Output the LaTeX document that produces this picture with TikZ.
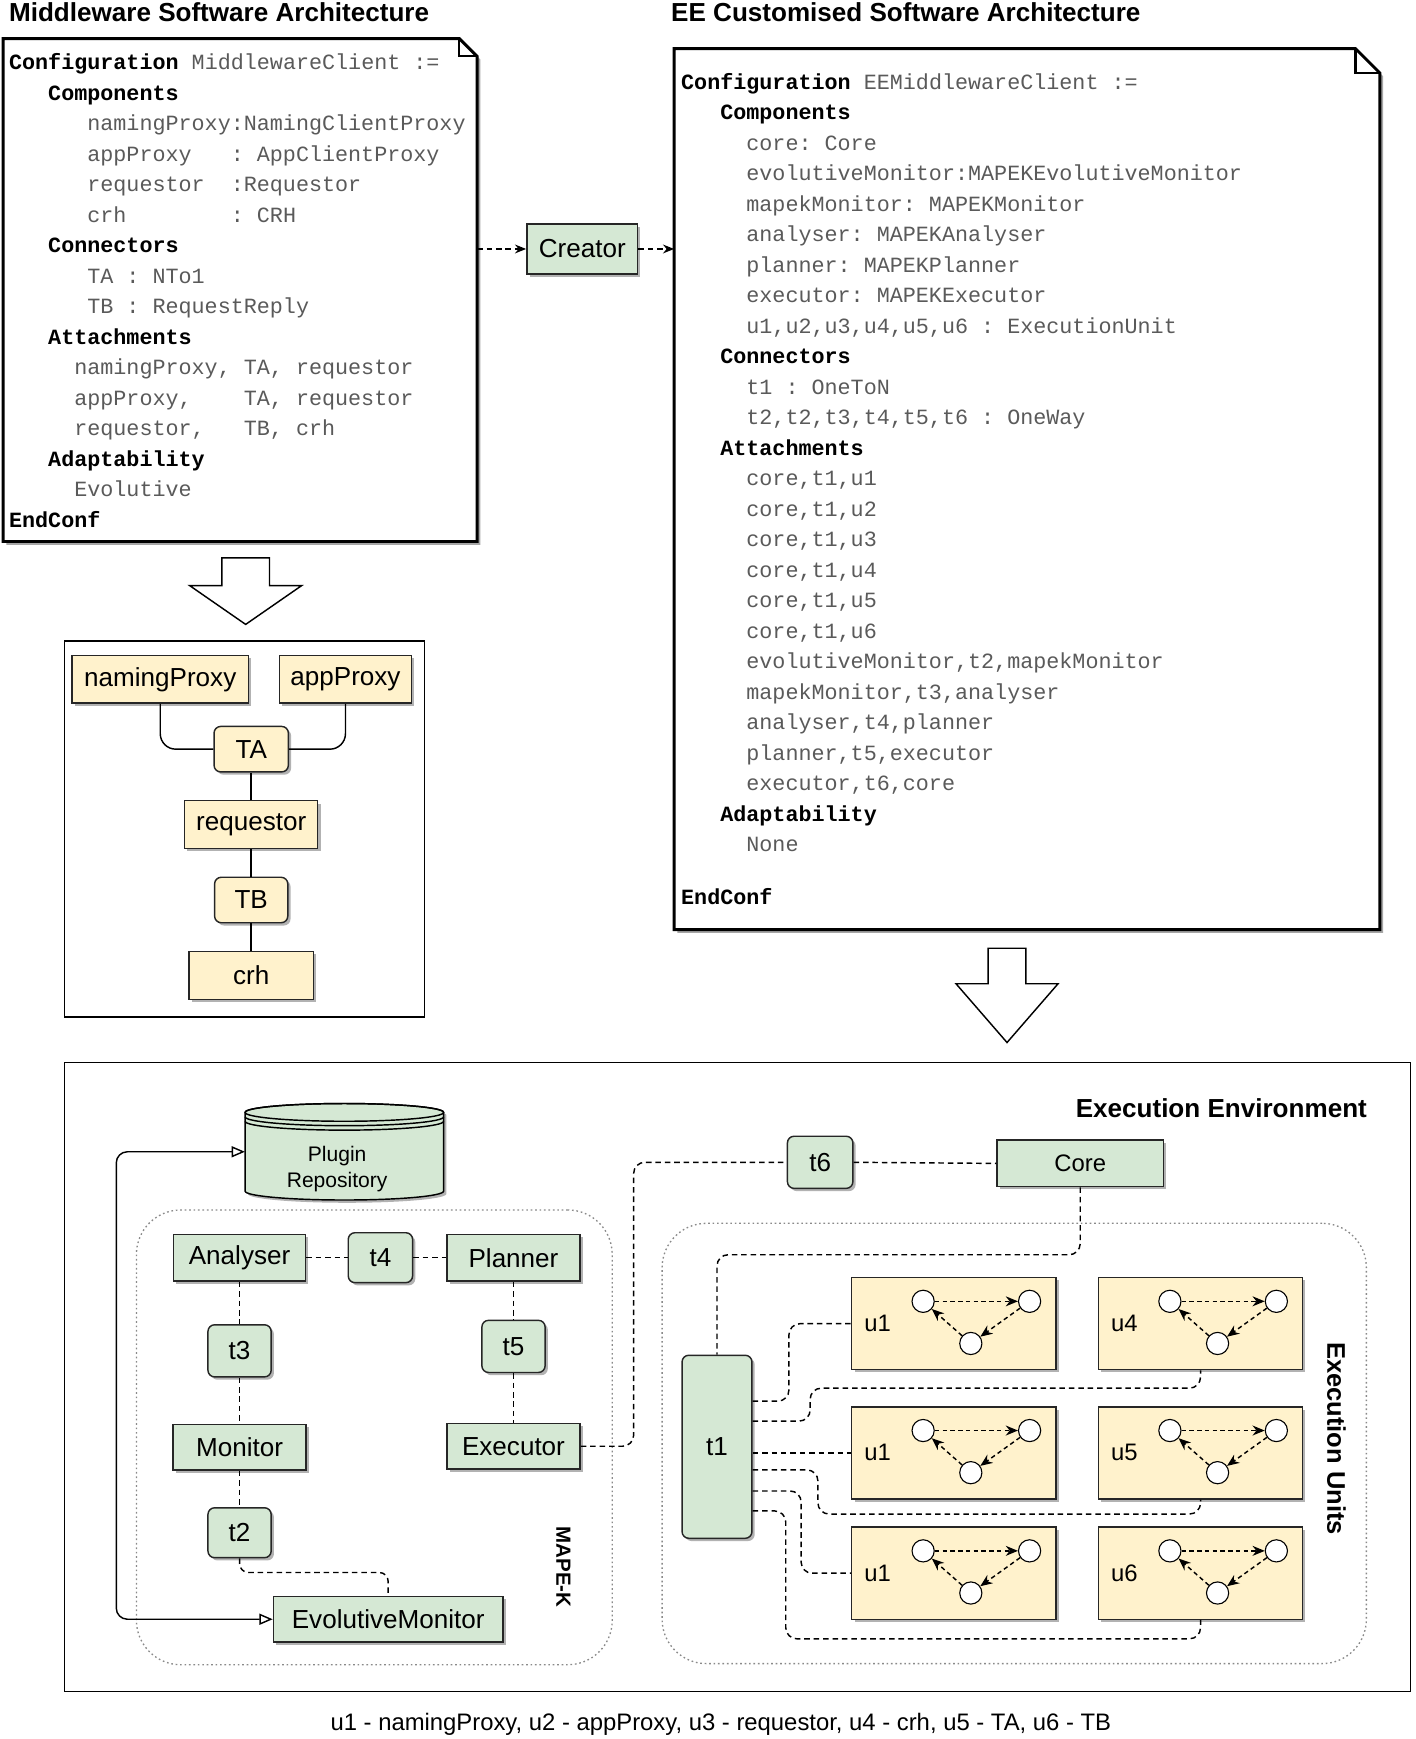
\documentclass[tikz,border=0pt]{standalone}
\usepackage{fontspec}
\setmainfont{Liberation Sans}
\setmonofont{Liberation Mono}
\usepackage{xcolor}
\usetikzlibrary{arrows.meta,shadows,calc}
\definecolor{compgreen}{HTML}{D5E8D4}
\definecolor{compyellow}{HTML}{FFF2CC}
\definecolor{codegray}{HTML}{5A5A5A}
\definecolor{groupgray}{HTML}{8A8A8A}
\newcommand\kw[1]{\textbf{\color{black}#1}}
\newcommand\cind[1]{\hspace*{\fpeval{0.6*#1}em}}
\tikzset{
    comp-box/.style = {draw=black!85, line width=1.3pt, rectangle, inner sep=0pt,
        font=\fontsize{23.5}{27}\selectfont,
        drop shadow={shadow xshift=2.5pt, shadow yshift=-2.5pt, opacity=.3, fill=black}},
    green-box/.style = {comp-box, fill=compgreen},
    yellow-box/.style = {comp-box, fill=compyellow},
    conn-box/.style = {rounded corners=6pt},
    frame-box/.style = {draw=black, line width=1.3pt, rectangle, inner sep=0pt},
    group-box/.style = {draw=groupgray, line width=1.2pt, dash pattern=on 1.5pt off 2.5pt, rounded corners=40pt, rectangle, inner sep=0pt},
    note-line/.style = {draw=black, line width=2.6pt, fill=white, line join=miter,
        drop shadow={shadow xshift=3pt, shadow yshift=-3pt, opacity=.35, fill=black}},
    code-text/.style = {anchor=north west, inner sep=0pt, align=left, text=codegray,
        font=\ttfamily\fontsize{19.6}{27.5}\selectfont},
    dash-line/.style = {line width=1.3pt, dash pattern=on 5pt off 3.5pt},
    unit-dot/.style = {circle, draw=black, line width=1pt, fill=white, minimum size=20pt, inner sep=0pt},
    unit-arrow/.style = {line width=1.3pt, dash pattern=on 4pt off 3pt, -{Stealth[length=11pt, width=9pt]}},
    block-arrow/.style = {draw=black, line width=1.3pt, fill=white, line join=miter},
    title-text/.style = {anchor=west, inner sep=0pt, font=\bfseries\fontsize{23.5}{27}\selectfont},
}

\begin{document}
\begin{tikzpicture}[x=1pt, y=-1pt]
\useasboundingbox (0,0) rectangle (1276,1568);

% titles
\node[title-text] (mwtitle) at (8,11) {Middleware Software Architecture};
\node[title-text] (eetitle) at (605,11) {EE Customised Software Architecture};

% configuration notes
\node[minimum width=427, minimum height=453, inner sep=0pt] (mwconf) at (216.5,261.5) {};
\draw[note-line] (mwconf.north west) -- ($(mwconf.north east)+(-16,0)$) -- ($(mwconf.north east)+(0,16)$) -- (mwconf.south east) -- (mwconf.south west) -- cycle;
\draw[line width=2pt] ($(mwconf.north east)+(-16,0)$) |- ($(mwconf.north east)+(0,16)$);
\node[code-text] (mwcode) at (8,48) {\kw{Configuration} MiddlewareClient~:=\\
\cind{3}\kw{Components}\\
\cind{6}namingProxy:NamingClientProxy\\
\cind{6}appProxy~~~:~AppClientProxy\\
\cind{6}requestor~~:Requestor\\
\cind{6}crh~~~~~~~~:~CRH\\
\cind{3}\kw{Connectors}\\
\cind{6}TA~:~NTo1\\
\cind{6}TB~:~RequestReply\\
\cind{3}\kw{Attachments}\\
\cind{5}namingProxy,~TA,~requestor\\
\cind{5}appProxy,~~~~TA,~requestor\\
\cind{5}requestor,~~~TB,~crh\\
\cind{3}\kw{Adaptability}\\
\cind{5}Evolutive\\
\kw{EndConf}};

\node[minimum width=636, minimum height=794, inner sep=0pt] (eeconf) at (926,441) {};
\draw[note-line] (eeconf.north west) -- ($(eeconf.north east)+(-22,0)$) -- ($(eeconf.north east)+(0,22)$) -- (eeconf.south east) -- (eeconf.south west) -- cycle;
\draw[line width=2pt] ($(eeconf.north east)+(-22,0)$) |- ($(eeconf.north east)+(0,22)$);
\node[code-text] (eecode) at (614,66) {\kw{Configuration} EEMiddlewareClient~:=\\
\cind{3}\kw{Components}\\
\cind{5}core:~Core\\
\cind{5}evolutiveMonitor:MAPEKEvolutiveMonitor\\
\cind{5}mapekMonitor:~MAPEKMonitor\\
\cind{5}analyser:~MAPEKAnalyser\\
\cind{5}planner:~MAPEKPlanner\\
\cind{5}executor:~MAPEKExecutor\\
\cind{5}u1,u2,u3,u4,u5,u6~:~ExecutionUnit\\
\cind{3}\kw{Connectors}\\
\cind{5}t1~:~OneToN\\
\cind{5}t2,t2,t3,t4,t5,t6~:~OneWay\\
\cind{3}\kw{Attachments}\\
\cind{5}core,t1,u1\\
\cind{5}core,t1,u2\\
\cind{5}core,t1,u3\\
\cind{5}core,t1,u4\\
\cind{5}core,t1,u5\\
\cind{5}core,t1,u6\\
\cind{5}evolutiveMonitor,t2,mapekMonitor\\
\cind{5}mapekMonitor,t3,analyser\\
\cind{5}analyser,t4,planner\\
\cind{5}planner,t5,executor\\
\cind{5}executor,t6,core\\
\cind{3}\kw{Adaptability}\\
\cind{5}None\\[19.5pt]
\kw{EndConf}};

% creator
\node[green-box, minimum width=100, minimum height=45] (creator) at (525,224.5) {Creator};
\draw[dash-line, -{Stealth[length=10pt, width=8pt]}] (mwconf.east |- creator.west) -- (creator.west);
\draw[dash-line, -{Stealth[length=10pt, width=8pt]}] (creator.east) -- (eeconf.west |- creator.east);

% block arrows
\draw[block-arrow] (200,503) -- (243,503) -- (243,528) -- (272,528) -- (221.5,563) -- (171,528) -- (200,528) -- cycle;
\draw[block-arrow] (891,855) -- (925,855) -- (925,887) -- (954,887) -- (908,940) -- (862,887) -- (891,887) -- cycle;

% middleware components
\node[frame-box, minimum width=325, minimum height=339] (compframe) at (220.5,747.5) {};
\node[yellow-box, minimum width=159, minimum height=43] (namingproxy) at (144.5,612.5) {namingProxy};
\node[yellow-box, minimum width=119, minimum height=43] (appproxy) at (311.5,612.5) {appProxy};
\node[yellow-box, conn-box, minimum width=67, minimum height=41] (ta) at (226.5,675.5) {TA};
\node[yellow-box, minimum width=120, minimum height=43] (requestor) at (226.5,743.5) {requestor};
\node[yellow-box, conn-box, minimum width=66, minimum height=41] (tb) at (226.5,811.5) {TB};
\node[yellow-box, minimum width=112, minimum height=43] (crh) at (226.5,879.5) {crh};
\draw[line width=1.3pt, rounded corners=14pt] (namingproxy.south) |- (ta.west);
\draw[line width=1.3pt, rounded corners=14pt] (appproxy.south) |- (ta.east);
\draw[line width=1.3pt] (ta.south) -- (requestor.north);
\draw[line width=1.3pt] (requestor.south) -- (tb.north);
\draw[line width=1.3pt] (tb.south) -- (crh.north);

% execution environment
\node[frame-box, minimum width=1214, minimum height=567] (envbox) at (665,1241.5) {};
\node[anchor=east, inner sep=0pt, font=\bfseries\fontsize{23.5}{27}\selectfont] (envlabel) at ($(envbox.north east)+(-40,42)$) {Execution Environment};
\node[group-box, minimum width=429, minimum height=410] (mapek) at (337.5,1296) {};
\node[group-box, minimum width=635, minimum height=397] (unitsbox) at (914.5,1301.5) {};
\node[rotate=-90, inner sep=0pt, font=\bfseries\fontsize{18.5}{22}\selectfont] (mapeklabel) at (508,1413) {MAPE-K};
\node[rotate=-90, inner sep=0pt, font=\bfseries\fontsize{23}{27}\selectfont] (unitslabel) at (1205,1297) {Execution Units};

% plugin repository
\node[minimum width=179, minimum height=87, inner sep=0pt] (plugin) at (310.5,1038.5) {};
\draw[line width=1.3pt, fill=compgreen, drop shadow={shadow xshift=2.5pt, shadow yshift=-2.5pt, opacity=.3, fill=black}]
  (221,1003) -- (221,1074) arc[start angle=180, end angle=0, x radius=89.5, y radius=8]
  -- (400,1003) arc[start angle=0, end angle=-180, x radius=89.5, y radius=8] -- cycle;
\draw[line width=1.3pt] (310.5,1003) ellipse[x radius=89.5, y radius=8];
\draw[line width=1.3pt] (221,1007) arc[start angle=180, end angle=0, x radius=89.5, y radius=8];
\draw[line width=1.3pt] (221,1011) arc[start angle=180, end angle=0, x radius=89.5, y radius=8];
\node[align=center, font=\fontsize{19}{23}\selectfont] (plugintext) at (304,1054) {Plugin\\Repository};

% MAPE-K loop
\node[green-box, minimum width=119, minimum height=42] (analyser) at (216,1134) {Analyser};
\node[green-box, conn-box, minimum width=58, minimum height=45] (t4) at (343,1134) {t4};
\node[green-box, minimum width=120, minimum height=42] (planner) at (463,1134) {Planner};
\node[green-box, conn-box, minimum width=57, minimum height=47] (t3) at (216,1218) {t3};
\node[green-box, conn-box, minimum width=57, minimum height=47] (t5) at (463,1214) {t5};
\node[green-box, minimum width=120, minimum height=41] (monitor) at (216,1305) {Monitor};
\node[green-box, minimum width=120, minimum height=41] (executor) at (463,1304) {Executor};
\node[green-box, conn-box, minimum width=57, minimum height=45] (t2) at (216,1382) {t2};
\node[green-box, minimum width=207, minimum height=41] (evolutive) at (350,1460) {EvolutiveMonitor};
\draw[dash-line] (analyser.east) -- (t4.west);
\draw[dash-line] (t4.east) -- (planner.west);
\draw[dash-line] (analyser.south) -- (t3.north);
\draw[dash-line] (t3.south) -- (monitor.north);
\draw[dash-line] (monitor.south) -- (t2.north);
\draw[dash-line] (planner.south) -- (t5.north);
\draw[dash-line] (t5.south) -- (executor.north);
\draw[dash-line, rounded corners=8pt] (t2.south) |- ($(evolutive.north)+(0,-21)$) -- (evolutive.north);
\draw[line width=1.3pt, rounded corners=10pt, {Triangle[open, length=12pt, width=10pt]}-{Triangle[open, length=12pt, width=10pt]}]
  (plugin.west) -| ($(evolutive.west)+(-141,0)$) -- (evolutive.west);

% core and connectors
\node[green-box, conn-box, minimum width=59, minimum height=47] (t6) at (739.5,1048) {t6};
\node[green-box, minimum width=150, minimum height=42, font=\fontsize{21.5}{25}\selectfont] (core) at (974,1049) {Core};
\node[green-box, conn-box, minimum width=63, minimum height=165] (t1) at (646.5,1304.5) {t1};
\draw[dash-line, rounded corners=10pt] (executor.east) -| ($(t6.west)+(-138,0)$) -- (t6.west);
\draw[dash-line] (t6.east) -- (core.west);
\draw[dash-line, rounded corners=10pt] (core.south) |- ($(t1.north)+(0,-90)$) -- (t1.north);

% execution units
\foreach \r/\c/\xx/\yy/\lbl in {1/1/860/1193.5/u1, 1/2/1082.5/1193.5/u4, 2/1/860/1310/u1, 2/2/1082.5/1310/u5, 3/1/860/1418.5/u1, 3/2/1082.5/1418.5/u6}{
  \node[yellow-box, minimum width=184, minimum height=83] (u\r\c) at (\xx,\yy) {};
  \node[inner sep=0pt, font=\fontsize{21.5}{25}\selectfont] (u\r\c l) at ($(u\r\c.west)+(24,0)$) {\lbl};
  \node[unit-dot] (u\r\c a) at ($(u\r\c.north west)+(65,22)$) {};
  \node[unit-dot] (u\r\c b) at ($(u\r\c.north west)+(161,22)$) {};
  \node[unit-dot] (u\r\c c) at ($(u\r\c.north west)+(108,60)$) {};
  \draw[unit-arrow] (u\r\c a) -- (u\r\c b);
  \draw[unit-arrow] (u\r\c b) -- (u\r\c c);
  \draw[unit-arrow] (u\r\c c) -- (u\r\c a);
}
\draw[dash-line, rounded corners=10pt] ($(t1.north east)+(0,42)$) -| ($(u11.west)+(-56,0)$) -- (u11.west);
\draw[dash-line, rounded corners=10pt] ($(t1.north east)+(0,60)$) -| ($(u12.south)+(-352,16)$) -| (u12.south);
\draw[dash-line] (t1.east |- u21.west) -- (u21.west);
\draw[dash-line, rounded corners=10pt] ($(t1.north east)+(0,104)$) -| ($(u22.south)+(-345,13)$) -| (u22.south);
\draw[dash-line, rounded corners=10pt] ($(t1.north east)+(0,123)$) -| ($(u31.west)+(-45,0)$) -- (u31.west);
\draw[dash-line, rounded corners=10pt] ($(t1.north east)+(0,141)$) -| ($(u32.south)+(-374,17)$) -| (u32.south);

% legend
\node[inner sep=0pt, font=\fontsize{21.5}{25}\selectfont] (legend) at (650,1555) {u1 - namingProxy, u2 - appProxy, u3 - requestor, u4 - crh, u5 - TA, u6 - TB};
\end{tikzpicture}
\end{document}
